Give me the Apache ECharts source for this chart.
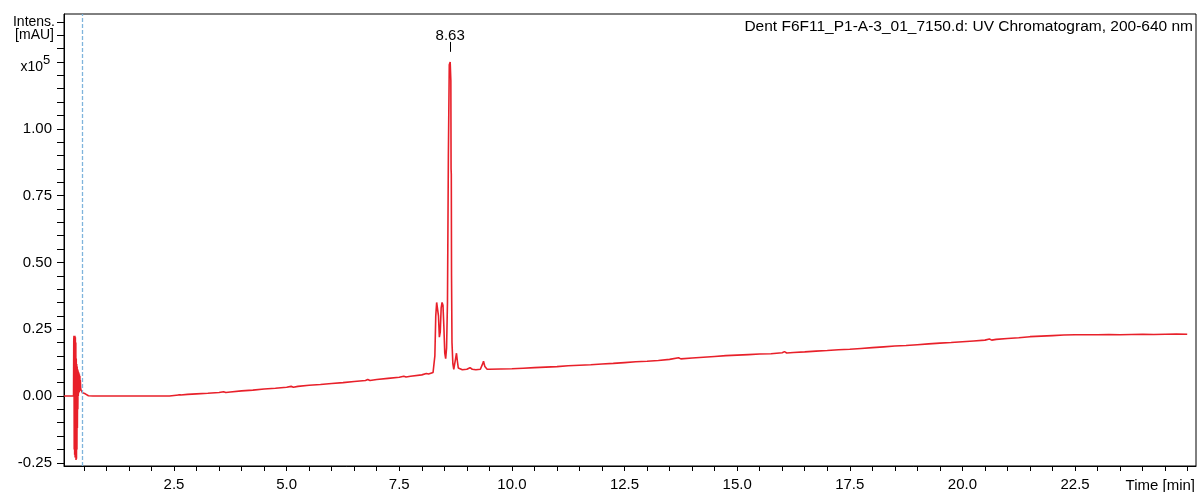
<!DOCTYPE html>
<html><head><meta charset="utf-8">
<script src="https://cdn.jsdelivr.net/npm/echarts@6/dist/echarts.min.js"></script>
<style>html,body{margin:0;padding:0;background:#fff}#c{width:1197px;height:492px}</style>
</head><body><div id="c"></div>
<script>
// ---- data (time [min], intensity [mAU x10^5]) ----
const chartTitle = 'Dent F6F11_P1-A-3_01_7150.d: UV Chromatogram, 200-640 nm';
const peakLabel = '8.63';
const peakTime = 8.63;
const peakTickRange = [1.288, 1.325];
const injectionMarkerTime = 0.47;

const injectionSpike = [
  [0.06,0],[0.27,0],[0.275,0.21],[0.28,0.225],[0.285,-0.20],[0.29,0.22],[0.295,-0.22],[0.30,0.225],
  [0.305,-0.23],[0.31,0.22],[0.315,-0.23],[0.32,0.20],[0.325,-0.24],[0.33,0.14],[0.335,-0.235],
  [0.34,0.12],[0.345,-0.20],[0.35,0.11],[0.355,-0.12],[0.36,0.10],[0.365,-0.05],[0.37,0.095],
  [0.375,0.0],[0.38,0.09],[0.385,0.01],[0.39,0.085],[0.395,0.015],[0.40,0.08],[0.405,0.02],
  [0.41,0.075],[0.415,0.02],[0.42,0.06],[0.43,0.025],[0.44,0.03],[0.45,0.02],[0.46,0.018],
  [0.47,0.012],[0.48,0.016],[0.50,0.01],[0.53,0.008],[0.56,0.004],[0.60,0.001],[0.70,0.0]
];
const earlyBaseline = [
  [1.0,0.0],[1.5,0.0],[1.98,0.0],[1.99,-0.005],[2.0,0.0],[2.4,0.0],[2.42,0.003],[2.6,0.004],
  [2.62,0.007],[2.65,0.004],[2.8,0.006],[3.0,0.008],[3.25,0.010],[3.5,0.013],[3.6,0.016],
  [3.65,0.013],[3.75,0.015],[4.0,0.019],[4.25,0.022],[4.5,0.026],[4.75,0.029],[5.0,0.033],
  [5.1,0.036],[5.15,0.033],[5.25,0.036],[5.5,0.040],[5.75,0.043],[6.0,0.047],[6.25,0.050],
  [6.5,0.054],[6.75,0.058],[6.8,0.062],[6.85,0.058],[7.0,0.062],[7.25,0.066],[7.5,0.070],
  [7.6,0.074],[7.65,0.071],[7.75,0.074],[8.0,0.079],[8.1,0.084],[8.15,0.082],[8.25,0.088]
];
const peakCluster = [
  [8.27,0.095],[8.29,0.15],[8.31,0.30],[8.33,0.35],[8.35,0.35],[8.37,0.30],[8.39,0.22],
  [8.41,0.24],[8.43,0.33],[8.45,0.35],[8.47,0.34],[8.49,0.26],[8.51,0.16],[8.53,0.14],
  [8.55,0.18],[8.57,0.35],[8.59,0.90],[8.61,1.24],[8.63,1.25],[8.645,1.18],[8.65,0.85],
  [8.655,0.83],[8.66,0.45],[8.67,0.20],[8.69,0.12],[8.71,0.10],[8.73,0.105],[8.75,0.14],
  [8.77,0.16],[8.79,0.13],[8.81,0.105],[8.85,0.10],[8.9,0.098],[9.0,0.10],[9.07,0.106],
  [9.12,0.10],[9.2,0.098],[9.3,0.10],[9.35,0.12],[9.37,0.13],[9.40,0.11],[9.45,0.10]
];
const lateBaseline = [
  [9.5,0.100],[9.75,0.101],[10.0,0.102],[10.25,0.104],[10.5,0.106],[10.75,0.108],[11.0,0.110],
  [11.25,0.113],[11.5,0.115],[11.75,0.117],[12.0,0.120],[12.25,0.122],[12.5,0.125],[12.75,0.128],
  [13.0,0.130],[13.25,0.133],[13.5,0.137],[13.7,0.143],[13.75,0.139],[14.0,0.142],[14.25,0.145],
  [14.5,0.148],[14.75,0.151],[15.0,0.153],[15.25,0.155],[15.5,0.157],[15.75,0.158],[16.0,0.162],
  [16.05,0.166],[16.1,0.161],[16.25,0.163],[16.5,0.165],[16.75,0.168],[17.0,0.170],[17.25,0.173],
  [17.5,0.175],[17.75,0.178],[18.0,0.181],[18.25,0.184],[18.5,0.187],[18.75,0.189],[19.0,0.192],
  [19.25,0.195],[19.5,0.198],[19.75,0.200],[20.0,0.203],[20.25,0.206],[20.5,0.209],[20.6,0.213],
  [20.65,0.209],[20.75,0.212],[21.0,0.215],[21.25,0.218],[21.5,0.222],[21.75,0.224],[22.0,0.226],
  [22.25,0.228],[22.5,0.229],[22.75,0.229],[23.0,0.229],[23.25,0.230],[23.5,0.229],[23.75,0.230],
  [24.0,0.231],[24.25,0.230],[24.5,0.231],[24.75,0.232],[24.99,0.231]
];
const xLabelValues = [2.5,5.0,7.5,10.0,12.5,15.0,17.5,20.0,22.5];
const yLabelValues = [-0.25,0.00,0.25,0.50,0.75,1.00];

// ---- chart ----
const xTicks = []; for (let k = 1; k <= 50; k++) xTicks.push(k * 0.5);
const yTicks = []; for (let k = -5; k <= 28; k++) yTicks.push(Math.round(k * 5) / 100);
const trace = injectionSpike.concat(earlyBaseline, peakCluster, lateBaseline);
const FONT = 'Liberation Sans, Arial, sans-serif';

const chart = echarts.init(document.getElementById('c'), null, {renderer: 'canvas'});
chart.setOption({
  animation: false,
  backgroundColor: '#fff',
  grid: {left: 64, right: 1, top: 14, bottom: 24, show: true, borderColor: '#000', borderWidth: 1, backgroundColor: 'transparent'},
  xAxis: {
    type: 'value', min: 0.058, max: 25.185,
    axisLine: {show: true, onZero: false, lineStyle: {color: '#000', width: 1}},
    axisTick: {show: true, length: 5, customValues: xTicks, lineStyle: {color: '#000'}},
    axisLabel: {customValues: xLabelValues, formatter: v => v.toFixed(1), color: '#000', fontSize: 15, fontFamily: FONT, margin: 11},
    splitLine: {show: false}
  },
  yAxis: {
    type: 'value', min: -0.262, max: 1.4296,
    axisLine: {show: true, onZero: false, lineStyle: {color: '#000', width: 1}},
    axisTick: {show: true, length: 7, customValues: yTicks, lineStyle: {color: '#000'}},
    axisLabel: {customValues: yLabelValues, formatter: v => v.toFixed(2), color: '#000', fontSize: 15, fontFamily: FONT, margin: 12},
    splitLine: {show: false}
  },
  series: [{
    type: 'line', data: trace, showSymbol: false, symbol: 'none',
    lineStyle: {color: '#e8202a', width: 1.6}, clip: true,
    markLine: {
      silent: true, symbol: ['none', 'none'], animation: false,
      data: [
        {xAxis: injectionMarkerTime, lineStyle: {color: '#7fb4dc', type: [4, 2], width: 1.3}, label: {show: false}},
        [
          {coord: [peakTime, peakTickRange[0]], lineStyle: {color: '#000', type: 'solid', width: 1},
           label: {show: true, position: 'end', formatter: peakLabel, color: '#000', fontSize: 15, fontFamily: FONT, distance: -1}},
          {coord: [peakTime, peakTickRange[1]]}
        ]
      ]
    }
  }],
  graphic: [
    {type: 'text', right: 4, top: 19, style: {text: chartTitle, fill: '#000', font: '15.5px ' + FONT}},
    {type: 'text', right: 2, top: 478, style: {text: 'Time [min]', fill: '#000', font: '15px ' + FONT}},
    {type: 'text', x: 55, y: 22, style: {text: 'Intens.', fill: '#000', font: '14px ' + FONT, align: 'right', verticalAlign: 'middle'}},
    {type: 'text', x: 54, y: 35, style: {text: '[mAU]', fill: '#000', font: '14px ' + FONT, align: 'right', verticalAlign: 'middle'}},
    {type: 'text', x: 43, y: 67, style: {text: 'x10', fill: '#000', font: '14px ' + FONT, align: 'right', verticalAlign: 'middle'}},
    {type: 'text', x: 43, y: 60, style: {text: '5', fill: '#000', font: '13px ' + FONT, align: 'left', verticalAlign: 'middle'}}
  ]
});
</script></body></html>
